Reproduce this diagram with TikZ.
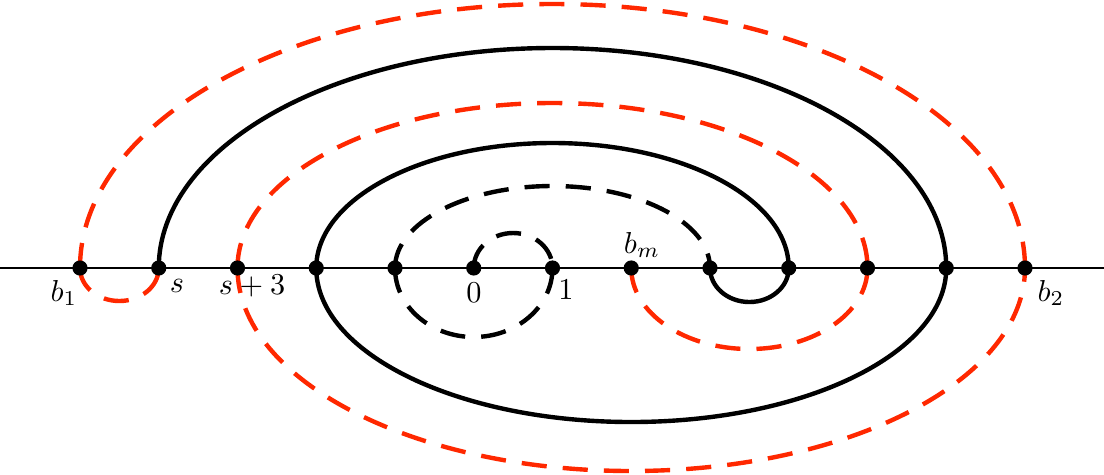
\documentclass[tikz,border=0pt]{standalone}
\usetikzlibrary{calc}
\definecolor{cred}{RGB}{255,40,0}
\begin{document}
\begin{tikzpicture}[x=0.33pt,y=0.33pt,
  dot/.style={circle,fill=black,inner sep=0pt,minimum size=5pt},
  curve/.style={line width=1.45pt},
  dsh/.style={curve,dash pattern=on 8.3pt off 5.3pt},
  redd/.style={dsh,draw=cred},
  blkd/.style={dsh,draw=black},
  lbl/.style={inner sep=0pt,anchor=base}]
\useasboundingbox (0,-206) rectangle (1104,268);
% points on the line
\foreach \i in {0,...,12}{
  \coordinate (c\i) at ({80+78.75*\i},0);
}
\coordinate (L) at (0,0);
\coordinate (R) at (1104,0);
% black solid curves
\draw[curve] (c1) arc[start angle=180,end angle=0,x radius=393.75,y radius=220];
\draw[curve] (c3) arc[start angle=180,end angle=360,x radius=315,y radius=154];
\draw[curve] (c3) arc[start angle=180,end angle=0,x radius=236.25,y radius=125];
\draw[curve] (c8) arc[start angle=180,end angle=360,x radius=39.375,y radius=34];
% black dashed curves
\draw[blkd] (c5) arc[start angle=180,end angle=0,x radius=39.375,y radius=35];
\draw[blkd] (c4) arc[start angle=180,end angle=360,x radius=78.75,y radius=69];
\draw[blkd] (c4) arc[start angle=180,end angle=0,x radius=157.5,y radius=82];
% red dashed curves
\draw[redd] (c0) arc[start angle=180,end angle=360,x radius=39.375,y radius=33];
\draw[redd] (c0) arc[start angle=180,end angle=0,x radius=472.5,y radius=264];
\draw[redd] (c2) arc[start angle=180,end angle=360,x radius=393.75,y radius=203];
\draw[redd] (c2) arc[start angle=180,end angle=0,x radius=315,y radius=165];
\draw[redd] (c7) arc[start angle=180,end angle=360,x radius=118.125,y radius=81];
% axis
\draw[line width=0.7pt] (L) -- (R);
\foreach \i in {0,...,12}{
  \node[dot] (p\i) at (c\i) {};
}
% labels
\node[lbl] (lb1) at (64,-33) {$b_1$};
\node[lbl] (ls) at (177,-24) {$s$};
\node[lbl] (ls3) at (252,-26) {$s+3$};
\node[lbl] (l0) at (474,-34) {$0$};
\node[lbl] (l1) at (566,-31) {$1$};
\node[lbl] (lbm) at (642,15) {$b_m$};
\node[lbl] (lb2) at (1051,-33) {$b_2$};
\end{tikzpicture}
\end{document}
